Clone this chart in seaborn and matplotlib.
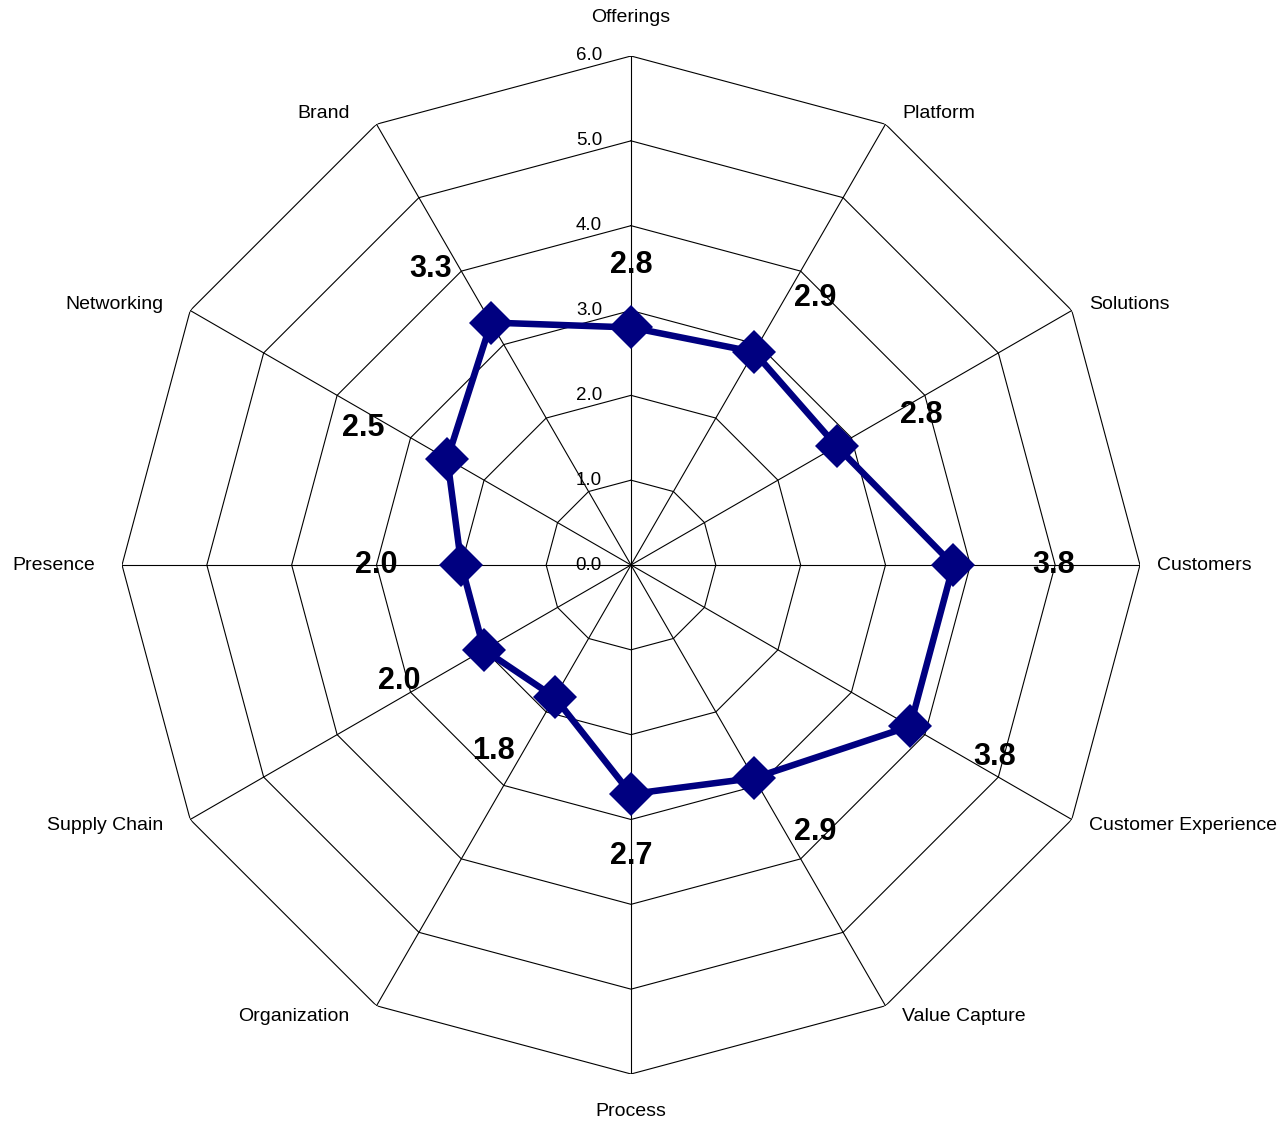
import numpy as np
import pandas as pd
import matplotlib
matplotlib.use("Agg")
import matplotlib.pyplot as plt
import seaborn as sns

# Capability scores per dimension (clockwise from the top)
categories = ["Offerings", "Platform", "Solutions", "Customers",
              "Customer Experience", "Value Capture", "Process",
              "Organization", "Supply Chain", "Presence",
              "Networking", "Brand"]
scores = [2.8, 2.9, 2.8, 3.8, 3.8, 2.9, 2.7, 1.8, 2.0, 2.0, 2.5, 3.3]
rings = [0, 1, 2, 3, 4, 5, 6]
ring_labels = ["0.0", "1.0", "2.0", "3.0", "4.0", "5.0", "6.0"]

sns.set_theme(style="white")
plt.rcParams["font.family"] = ["Liberation Sans", "DejaVu Sans"]

NAVY = "#000080"
n = len(categories)
theta = np.arange(n) * 2 * np.pi / n
theta_closed = np.append(theta, 2 * np.pi)

W, H = 1281, 1122
cx, cy, R = 631, 565, 509
fig = plt.figure(figsize=(W / 100, H / 100), dpi=100)
ax = fig.add_axes([(cx - R) / W, (H - cy - R) / H, 2 * R / W, 2 * R / H],
                  projection="polar")
ax.set_theta_zero_location("N")
ax.set_theta_direction(-1)
ax.set_ylim(0, rings[-1])
ax.grid(False)
ax.spines["polar"].set_visible(False)
ax.set_xticks([])
ax.set_yticks([])
ax.patch.set_alpha(0)

# Polygonal grid rings and spokes
for r in rings[1:]:
    ax.plot(theta_closed, [r] * (n + 1), color="black", lw=0.8, zorder=1)
for t in theta:
    ax.plot([t, t], [0, rings[-1]], color="black", lw=0.8, zorder=1)

# Ring value labels along the top spoke
for r, lab in zip(rings, ring_labels):
    ax.annotate(lab, xy=(0, r), xytext=(-29, 0), textcoords="offset pixels",
                ha="right", va="center", fontsize=13.5, color="black")

# Data polygon
closed_scores = scores + scores[:1]
df = pd.DataFrame({"theta": theta_closed, "score": closed_scores})
sns.lineplot(data=df, x="theta", y="score", sort=False, ax=ax,
             color=NAVY, lw=4.7, zorder=3)
ax.plot(theta, scores, linestyle="none", marker="D", markersize=22,
        color=NAVY, markeredgewidth=0, zorder=4)
ax.set_xlabel("")
ax.set_ylabel("")

# Value labels pushed outward from each point
for t, v in zip(theta, scores):
    s, c = np.sin(t), np.cos(t)
    dx = 92 * np.sign(s) * abs(s) ** 0.6
    if s > 0.999:
        dx += 8
    elif s < -0.999:
        dx += 7
    dy = 62 * c
    ax.annotate(f"{v:.1f}", xy=(t, v), xytext=(dx, dy),
                textcoords="offset pixels", ha="center", va="center",
                fontsize=22, fontweight="bold", color="black", zorder=5)

# Category labels outside the outer ring
for t, lab in zip(theta, categories):
    s, c = np.sin(t), np.cos(t)
    if abs(s) < 1e-6:
        ha, dx, dy = "center", 0, 38 * np.sign(c)
    else:
        ha = "left" if s > 0 else "right"
        dx = 17 if s > 0 else -27
        dy = 12 * c
    ax.annotate(lab, xy=(t, rings[-1]), xytext=(dx, dy),
                textcoords="offset pixels", ha=ha, va="center",
                fontsize=14, color="black")

ax.set_ylim(0, rings[-1])
fig.savefig("out.png", dpi=100, facecolor="white")
